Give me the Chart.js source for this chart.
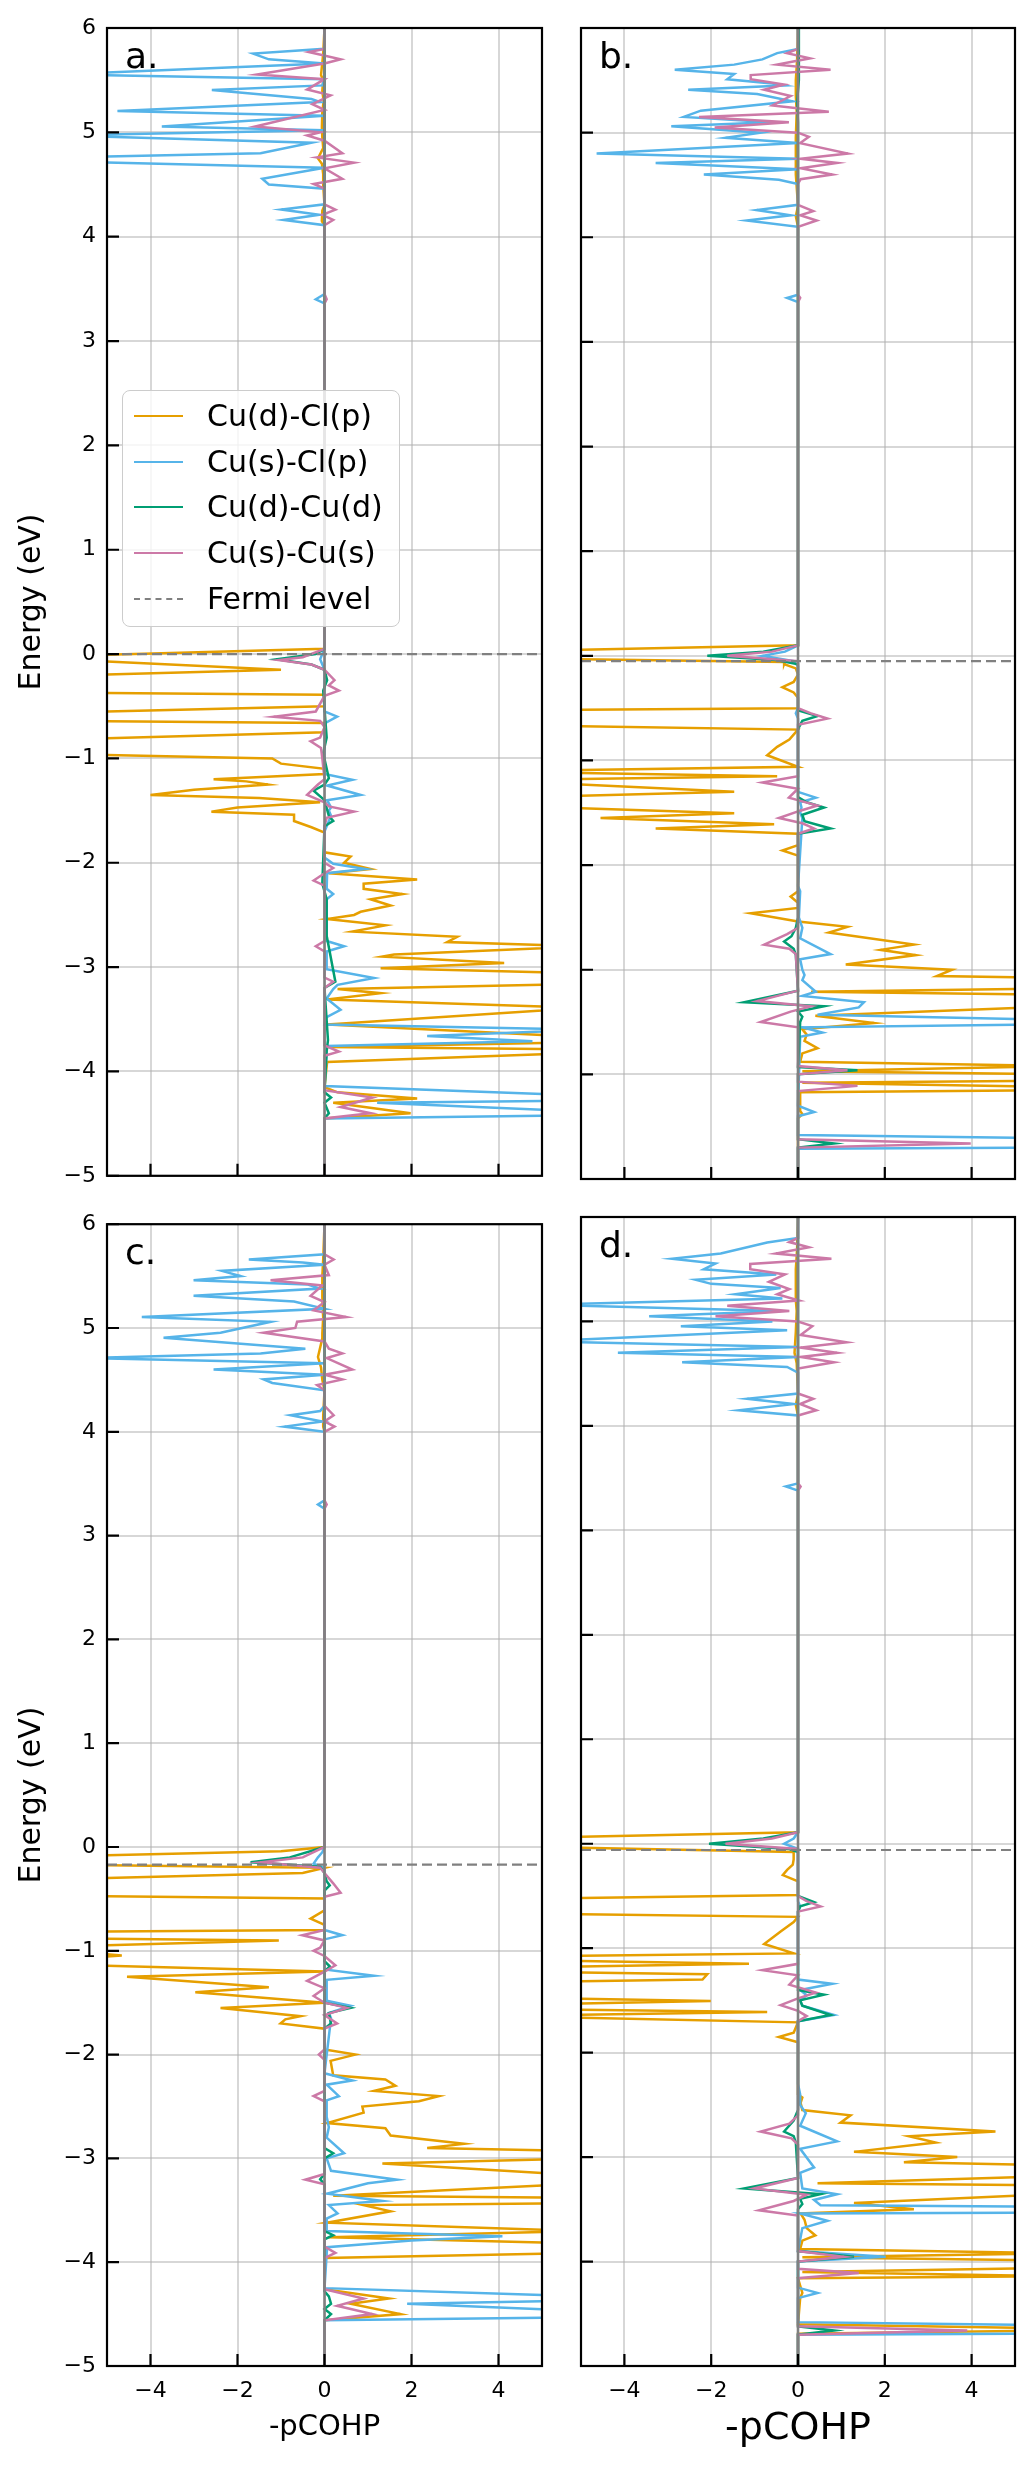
<!DOCTYPE html>
<html>
<head>
<meta charset="utf-8">
<script src="https://cdn.jsdelivr.net/npm/chart.js@4.4.1/dist/chart.umd.min.js"></script>
<style>
  body { margin: 0; background: #fff; width: 1036px; height: 2466px; position: relative; overflow: hidden; font-family: "DejaVu Sans"; }
  canvas { position: absolute; }
  #legend { position: absolute; left: 122px; top: 390px; width: 278px; height: 237px; box-sizing: border-box;
            border: 1.5px solid #cccccc; border-radius: 8px; background: rgba(255,255,255,0.8); z-index: 2; }
  .row { position: absolute; left: 0; height: 40px; width: 100%; }
  .swatch { position: absolute; left: 11px; width: 49px; top: 19px; border-top: 2.5px solid; }
  .lbl { position: absolute; left: 84px; top: 0; font-size: 30px; line-height: 40px; color: #000; white-space: nowrap; }
</style>
</head>
<body>
<canvas id="pa" width="560" height="1200" style="left:0;top:0"></canvas>
<canvas id="pb" width="476" height="1200" style="left:560px;top:0"></canvas>
<canvas id="pc" width="560" height="1266" style="left:0;top:1200px"></canvas>
<canvas id="pd" width="476" height="1266" style="left:560px;top:1200px"></canvas>
<div id="legend"></div>
<script>
// series order: Cu(d)-Cl(p), Cu(s)-Cl(p), Cu(d)-Cu(d), Cu(s)-Cu(s)
const seriesNames = ["Cu(d)-Cl(p)", "Cu(s)-Cl(p)", "Cu(d)-Cu(d)", "Cu(s)-Cu(s)"];
const panelLabels = ["a.", "b.", "c.", "d."];
const fermiLevels = [0.0, -0.05, -0.17, -0.06];
const xTickVals = [-4, -2, 0, 2, 4];
const yTickVals = [-5, -4, -3, -2, -1, 0, 1, 2, 3, 4, 5, 6];

// each point: [energy, -pCOHP]
const a_CuDClP = [[6,0],[5.75,-0.03],[5.55,-0.08],[5.5,-0.03],[5.4,-0.05],[5.3,-0.02],[5.2,-0.05],[5.05,-0.06],[4.95,-0.05],[4.85,-0.03],[4.75,-0.15],[4.7,-0.06],[4.6,-0.03],[4.5,-0.03],[4.3,0],[4.25,-0.05],[4.15,-0.06],[4.1,0],
  [0.05,0],[-0.03,-7],[-0.15,-1.0],[-0.22,-7],[-0.30,-8],[-0.37,-6],[-0.39,0],[-0.50,0],[-0.57,-7],[-0.64,-6],[-0.66,0],[-0.75,0],[-0.83,-7],[-0.90,-8],[-0.96,-6],[-1.0,-1.2],[-1.05,-1.0],[-1.10,0],
  [-1.15,0],[-1.20,-2.55],[-1.22,-1.8],[-1.25,-1.3],[-1.30,-3.0],[-1.35,-4.0],[-1.38,-1.5],[-1.42,-0.1],[-1.47,-2.0],[-1.51,-2.6],[-1.54,-0.7],[-1.60,-0.7],[-1.66,-0.3],[-1.71,0],
  [-1.90,0],[-1.94,0.6],[-2.0,0.45],[-2.06,1.06],[-2.10,0.1],[-2.16,2.13],[-2.20,0.9],[-2.25,0.9],[-2.30,1.79],[-2.35,1.06],[-2.41,1.52],[-2.47,0.83],[-2.50,0.68],[-2.54,0.06],[-2.60,1.4],[-2.66,0.64],[-2.71,3.05],[-2.76,2.82],[-2.80,6],[-2.88,1.6],[-2.90,1.33],[-2.96,4.13],[-3.01,1.29],[-3.06,6],[-3.16,6],[-3.21,0.3],[-3.25,1.29],[-3.31,0.06],[-3.39,6],[-3.55,0.06],[-3.67,6],[-3.72,6],[-3.765,0.06],[-3.79,6],[-3.82,6],[-3.91,0.06],
  [-4.15,0],[-4.20,0.3],[-4.26,2.13],[-4.30,0.2],[-4.40,1.98],[-4.45,0],[-5,0]];
const a_CuSClP = [[6,0],[5.80,0],[5.755,-1.64],[5.70,-1.28],[5.66,0],[5.555,-6],[5.51,0],[5.45,-0.05],[5.405,-2.59],[5.32,-0.3],[5.29,-0.1],[5.205,-4.76],[5.16,0],[5.056,-3.74],[5.02,0],[4.97,-6],[4.90,-0.3],[4.80,-1.47],[4.76,-6],[4.72,-6],[4.66,0],[4.555,-1.43],[4.50,-1.28],[4.46,0],[4.31,0],[4.26,-0.99],[4.21,-0.12],[4.16,-0.94],[4.11,0],[3.45,0],[3.40,-0.2],[3.36,0],
  [0.05,0],[0.0,-0.05],[-0.05,-0.1],[-0.15,0],[-0.55,0],[-0.60,0.29],[-0.665,0],[-1.15,0],[-1.205,0.64],[-1.26,0.06],[-1.35,0.83],[-1.40,0.06],[-1.47,0.15],[-1.50,0.1],[-1.55,0.15],[-1.70,0],[-1.95,0],[-2.01,0.2],[-2.06,0.94],[-2.10,0.06],[-2.25,0.05],[-2.30,0.2],[-2.35,0.05],[-2.75,0.05],[-2.80,0.45],[-2.85,0.05],[-3.02,0.05],[-3.105,1.14],[-3.17,0.3],[-3.21,0.2],[-3.30,0.05],[-3.41,0.37],[-3.48,0.05],[-3.55,0],[-3.60,6],[-3.66,2.36],[-3.71,4.78],[-3.755,0.06],[-4.14,0],[-4.23,6],[-4.28,6],[-4.30,1.21],[-4.385,6],[-4.42,6],[-4.45,0],[-5,0]];
const a_CuDCuD = [[6,0],[0.05,0],[0.0,-0.2],[-0.05,-1.1],[-0.1,-0.3],[-0.15,0],[-0.25,0.06],[-0.35,-0.03],[-0.8,0.05],[-0.95,-0.03],[-1.19,0.1],[-1.25,0],[-1.31,-0.25],[-1.40,0],[-1.55,0.1],[-1.60,0.2],[-1.65,0],[-2.2,-0.05],[-2.35,0.05],[-2.5,0.05],[-2.7,0.05],[-3.14,0.25],[-3.2,0],[-3.7,0.08],[-3.8,0.05],[-4.2,0],[-4.25,0.15],[-4.30,0],[-4.40,0.1],[-4.45,0],[-5,0]];
const a_CuSCuS = [[6,0],[5.80,0],[5.77,-0.36],[5.70,0.37],[5.66,0],[5.555,-1.55],[5.51,0],[5.41,-0.4],[5.355,0.14],[5.27,-0.28],[5.215,0],[5.056,-1.59],[5.0,-0.1],[4.97,-0.4],[4.92,0],[4.80,0.41],[4.76,-0.17],[4.71,0.68],[4.655,0],[4.555,0.41],[4.505,-0.25],[4.46,0],[4.31,0],[4.26,0.25],[4.21,-0.05],[4.16,0.2],[4.11,0],[3.45,0],[3.40,0.05],[3.36,0],
  [0.05,0],[-0.03,-0.5],[-0.058,-1.05],[-0.10,-0.3],[-0.15,0],[-0.25,0.23],[-0.30,0.1],[-0.35,0.33],[-0.40,0],[-0.55,-0.2],[-0.60,-1.17],[-0.64,-0.1],[-0.70,0],[-0.80,-0.1],[-0.836,-0.32],[-0.90,-0.08],[-1.0,-0.05],[-1.2,0],[-1.25,-0.15],[-1.35,-0.4],[-1.42,0],[-1.46,0.1],[-1.51,0.68],[-1.57,0.05],[-1.65,0],[-2.0,0],[-2.05,0.2],[-2.10,0],[-2.17,-0.25],[-2.22,0],[-2.75,0],[-2.80,-0.2],[-2.85,0],[-3.10,0],[-3.14,0.2],[-3.2,0],[-3.75,0],[-3.81,0.33],[-3.85,0],[-4.18,0],[-4.25,1.1],[-4.34,0.37],[-4.40,1.06],[-4.45,0],[-5,0]];

const b_CuDClP = [[6,0],[5.7,-0.02],[5.5,-0.05],[5.35,-0.05],[5.2,-0.03],[4.95,-0.05],[4.75,-0.05],[4.6,-0.05],[4.3,0],[4.2,-0.05],[4.1,0],
  [0.10,0],[0.04,-7],[-0.02,-7],[-0.06,-0.3],[-0.08,-0.32],[-0.12,-0.05],[-0.18,0],[-0.25,-0.1],[-0.30,-0.36],[-0.35,-0.1],[-0.40,0],[-0.50,0],[-0.52,-7],[-0.66,-7],[-0.705,0],[-0.80,-0.2],[-0.87,-0.48],[-0.95,-0.71],[-1.06,0],[-1.105,-7],[-1.15,-0.48],[-1.19,-7],[-1.30,-1.47],[-1.36,-7],[-1.43,-7],[-1.505,-1.47],[-1.55,-4.55],[-1.61,-0.55],[-1.65,-3.28],[-1.70,0],
  [-1.81,0],[-1.86,-0.36],[-1.91,0],[-2.25,0],[-2.30,-0.17],[-2.36,0],[-2.41,0],[-2.46,-1.09],[-2.54,0],[-2.59,1.14],[-2.645,0.71],[-2.76,2.67],[-2.81,1.9],[-2.86,2.71],[-2.95,1.1],[-3.0,3.55],[-3.06,3.2],[-3.08,6],[-3.18,6],[-3.21,0.3],[-3.24,6],[-3.29,6],[-3.35,6],[-3.44,0.4],[-3.51,1.75],[-3.57,0.1],[-3.62,0.2],[-3.68,0.15],[-3.75,0.45],[-3.80,0.1],[-3.88,0.05],[-3.92,6],[-3.97,0.1],[-4.00,6],[-4.06,6],[-4.08,0.1],[-4.12,6],[-4.15,6],[-4.17,0.05],[-4.35,0.05],[-4.38,0.1],[-4.42,0],[-5,0]];
const b_CuSClP = [[6,0],[5.80,0],[5.76,-0.48],[5.70,-0.82],[5.65,-1.47],[5.60,-2.84],[5.56,-1.47],[5.51,-1.63],[5.47,-0.6],[5.45,-0.32],[5.41,-2.53],[5.37,-0.94],[5.30,-0.13],[5.21,-2.24],[5.15,-2.63],[5.10,-0.6],[5.06,-2.92],[5.0,-0.86],[4.95,-1.67],[4.90,0],[4.80,-4.64],[4.75,0],[4.71,-3.28],[4.65,0],[4.60,-2.17],[4.55,-0.44],[4.51,0],[4.31,0],[4.26,-0.95],[4.21,-0.17],[4.16,-1.18],[4.10,0],[3.45,0],[3.42,-0.25],[3.38,0],
  [0.10,0],[0.04,-0.3],[0.0,-0.82],[-0.05,-0.1],[-0.1,0],[-0.5,0],[-0.55,-0.05],[-0.6,0],[-1.3,0],[-1.355,0.41],[-1.40,0.05],[-1.45,0.08],[-1.5,0.05],[-1.55,0.1],[-2.2,0],[-2.25,0.05],[-2.5,0.02],[-2.6,0.1],[-2.7,0.05],[-2.85,0.75],[-2.9,0.05],[-3.0,0.1],[-3.05,0.15],[-3.1,0.1],[-3.21,0.41],[-3.25,0.1],[-3.31,1.52],[-3.36,1.4],[-3.43,0.45],[-3.48,6],[-3.52,6],[-3.55,0.1],[-3.60,0.56],[-3.64,0.05],[-4.3,0],[-4.36,0.37],[-4.40,0],[-4.58,0],[-4.61,6],[-4.70,6],[-4.71,0],[-5,0]];
const b_CuDCuD = [[6,0],[5.5,0.02],[5.3,-0.02],[5.1,0],
  [0.10,0],[0.04,-0.8],[0.0,-2.09],[-0.04,-0.5],[-0.08,0],[-0.52,0],[-0.575,0.45],[-0.62,0.1],[-0.70,0],[-1.35,0],[-1.40,0.2],[-1.45,0.6],[-1.52,0.1],[-1.58,0.15],[-1.65,0.75],[-1.70,0],[-2.5,0],[-2.6,-0.05],[-2.68,-0.15],[-2.73,-0.32],[-2.80,-0.1],[-2.86,-0.05],[-3.2,0],[-3.31,-1.24],[-3.35,0.6],[-3.40,0],[-3.45,0.1],[-3.50,0.05],[-3.93,0],[-3.96,1.37],[-4.0,0],[-4.62,0],[-4.66,0.83],[-4.70,0],[-5,0]];
const b_CuSCuS = [[6,0],[5.80,0],[5.76,-0.25],[5.71,0.28],[5.65,-0.48],[5.60,0.75],[5.55,-1.09],[5.51,-1.09],[5.46,-0.32],[5.41,-0.78],[5.35,-0.17],[5.26,-0.59],[5.20,0.71],[5.15,-2.28],[5.10,-0.21],[5.05,-1.92],[5.0,0],[4.96,0.25],[4.90,0.05],[4.80,1.15],[4.75,0.06],[4.71,0.9],[4.66,0.06],[4.60,0.79],[4.555,0.06],[4.51,0],[4.31,0],[4.25,0.35],[4.21,0.05],[4.16,0.43],[4.10,0],[3.45,0],[3.42,0.05],[3.38,0],
  [0.10,0],[0.04,-0.6],[0.0,-1.63],[-0.05,0],[-0.5,0],[-0.55,0.3],[-0.60,0.68],[-0.66,0],[-1.15,0],[-1.21,-0.82],[-1.27,0],[-1.355,-0.21],[-1.43,0.45],[-1.48,0.05],[-1.55,-0.44],[-1.60,0.1],[-1.65,0.37],[-1.70,0],[-2.60,0],[-2.66,-0.25],[-2.76,-0.78],[-2.80,-0.2],[-2.85,-0.05],[-3.20,0],[-3.30,-0.94],[-3.35,0.3],[-3.40,-0.17],[-3.50,-0.86],[-3.55,0],[-3.92,0],[-3.96,1.14],[-4.0,0],[-4.07,0],[-4.11,1.37],[-4.16,0],[-4.62,0],[-4.66,3.98],[-4.70,0],[-5,0]];

const c_CuDClP = [[6,0],[5.66,-0.03],[5.5,-0.05],[5.3,-0.05],[5.1,-0.03],[4.95,-0.05],[4.9,-0.05],[4.72,-0.15],[4.62,-0.08],[4.5,-0.05],[4.4,0],[4.15,-0.03],[4.05,-0.03],[4.0,0],
  [0.0,0],[-0.04,-1.0],[-0.10,-7],[-0.17,-6],[-0.20,0],[-0.25,-0.5],[-0.32,-7],[-0.40,-8],[-0.47,-6],[-0.495,0],[-0.61,0],[-0.69,-0.32],[-0.75,0],[-0.80,0],[-0.82,-7],[-0.88,-6],[-0.90,-1.05],[-0.97,-7],[-1.045,-4.66],[-1.12,-7],[-1.20,0],[-1.25,-4.54],[-1.35,-1.28],[-1.40,-2.97],[-1.50,0],[-1.55,-2.39],[-1.63,-0.55],[-1.66,-0.9],[-1.70,-1.01],[-1.75,0],
  [-1.95,0],[-2.0,0.71],[-2.06,0.14],[-2.20,0.2],[-2.24,1.4],[-2.30,1.63],[-2.35,1.14],[-2.40,2.63],[-2.45,2.17],[-2.50,0.87],[-2.56,0.9],[-2.66,0.06],[-2.71,1.4],[-2.78,1.52],[-2.86,3.21],[-2.90,2.36],[-2.93,6],[-3.0,6],[-3.05,1.33],[-3.165,6],[-3.24,6],[-3.36,0.2],[-3.38,6],[-3.43,6],[-3.45,0.9],[-3.51,1.52],[-3.62,0.06],[-3.70,6],[-3.76,0.1],[-3.82,6],[-3.91,6],[-3.96,0],
  [-4.26,0],[-4.35,1.48],[-4.40,0.6],[-4.50,1.75],[-4.56,0],[-5,0]];
const c_CuSClP = [[6,0],[5.71,0],[5.66,-1.74],[5.63,-0.5],[5.61,0],[5.55,-2.36],[5.50,-1.93],[5.46,-3.01],[5.42,-0.4],[5.38,-0.1],[5.31,-3.01],[5.255,-0.7],[5.185,0],[5.105,-4.2],[5.06,-1.24],[4.955,-2.39],[4.905,-3.7],[4.80,-0.44],[4.755,-1.47],[4.71,-5.5],[4.66,0],[4.60,-2.55],[4.55,0],[4.505,-1.4],[4.47,-1.2],[4.40,0],[4.25,0],[4.20,-0.1],[4.16,-0.78],[4.10,-0.05],[4.05,-0.92],[4.0,0],[3.34,0],[3.30,-0.15],[3.26,0],
  [0.0,0],[-0.05,-0.05],[-0.10,-0.15],[-0.16,-0.25],[-0.20,0],[-0.80,0],[-0.85,0.41],[-0.89,0],[-1.18,0],[-1.24,1.14],[-1.28,0.05],[-1.48,0.05],[-1.53,0.6],[-1.60,0.1],[-1.65,0.15],[-2.18,0],[-2.25,0.64],[-2.29,0.05],[-2.40,0.33],[-2.44,0.05],[-2.6,0.05],[-2.7,0.1],[-2.80,0.05],[-2.95,0.45],[-3.0,0.05],[-3.12,0.15],[-3.205,1.67],[-3.24,1.0],[-3.34,0.06],[-3.41,1.33],[-3.45,0.1],[-3.53,0.3],[-3.58,0.05],[-3.70,0.05],[-3.75,4.09],[-3.79,2.0],[-3.855,0.06],[-4.25,0],[-4.33,6],[-4.37,6],[-4.40,1.9],[-4.47,6],[-4.53,6],[-4.56,0],[-5,0]];
const c_CuDCuD = [[6,0],[0.0,0],[-0.10,-0.8],[-0.147,-1.7],[-0.19,-0.1],[-0.25,0],[-0.33,0.05],[-0.37,0.12],[-0.42,0],[-1.10,0],[-1.15,0.12],[-1.2,0],[-1.50,0],[-1.55,0.6],[-1.60,0.1],[-1.70,0.15],[-1.75,0],[-2.9,0],[-2.95,0.2],[-3.0,0],[-3.15,0],[-3.2,-0.1],[-3.25,0],[-3.70,0],[-3.74,0.2],[-3.78,0],[-4.28,0],[-4.33,0.1],[-4.40,0.15],[-4.45,0],[-4.50,0.15],[-4.56,0],[-5,0]];
const c_CuSCuS = [[6,0],[5.71,0],[5.66,0.21],[5.61,0],[5.51,0.1],[5.46,-1.24],[5.41,-0.05],[5.31,-0.32],[5.25,0],[5.17,-0.25],[5.105,0.5],[5.06,-0.63],[5.0,-0.67],[4.955,-1.4],[4.87,0],[4.80,0.1],[4.755,0.41],[4.71,0.05],[4.60,0.64],[4.55,0],[4.505,0.41],[4.45,-0.17],[4.40,0],[4.25,0],[4.16,0.21],[4.10,0],[4.05,0.23],[4.0,0],[3.34,0],[3.30,0.05],[3.26,0],
  [0.0,0],[-0.10,-0.5],[-0.147,-1.47],[-0.20,-0.1],[-0.25,0],[-0.35,0.2],[-0.44,0.37],[-0.48,0],[-0.80,0],[-0.85,-0.51],[-0.90,0],[-0.97,-0.1],[-1.0,-0.25],[-1.05,0],[-1.14,0.25],[-1.20,0],[-1.29,-0.4],[-1.36,0],[-1.435,-0.25],[-1.50,0],[-1.55,0.52],[-1.62,0],[-1.70,0.29],[-1.75,0],[-1.95,0],[-2.0,-0.13],[-2.05,0],[-2.35,0],[-2.40,-0.25],[-2.45,0],[-3.15,0],[-3.205,-0.44],[-3.25,0],[-3.85,0],[-3.91,0.25],[-3.96,0],[-4.26,0],[-4.35,0.9],[-4.42,0.29],[-4.50,1.1],[-4.56,0],[-5,0]];

const d_CuDClP = [[6,0],[5.7,-0.02],[5.5,-0.05],[5.35,-0.05],[5.2,-0.05],[5.1,-0.03],[4.9,-0.05],[4.7,-0.08],[4.6,-0.03],[4.3,0],[4.2,-0.05],[4.1,0],
  [0.11,0],[0.05,-7],[-0.02,-7],[-0.08,-0.1],[-0.15,-0.1],[-0.20,-0.12],[-0.25,-0.25],[-0.30,-0.35],[-0.36,0],[-0.49,0],[-0.53,-7],[-0.665,-7],[-0.70,0],[-0.75,-0.1],[-0.84,-0.4],[-0.96,-0.78],[-1.05,-0.1],[-1.08,-7],[-1.11,-7],[-1.15,-1.13],[-1.19,-7],[-1.22,-7],[-1.25,-2.09],[-1.30,-2.2],[-1.33,-7],[-1.47,-7],[-1.505,-2.01],[-1.545,-7],[-1.58,-7],[-1.61,-0.71],[-1.65,-7],[-1.71,0],
  [-1.81,-0.1],[-1.85,-0.44],[-1.90,0],[-2.17,0],[-2.40,0],[-2.43,0.1],[-2.48,0.06],[-2.55,0.1],[-2.60,1.21],[-2.67,0.98],[-2.755,4.55],[-2.80,2.56],[-2.86,3.17],[-2.95,1.29],[-3.0,3.67],[-3.05,2.44],[-3.08,6],[-3.18,6],[-3.25,0.45],[-3.27,6],[-3.35,6],[-3.44,1.29],[-3.50,2.67],[-3.54,0.06],[-3.60,0.15],[-3.68,0.2],[-3.75,0.4],[-3.80,0.1],[-3.88,0.05],[-3.92,6],[-3.96,0.1],[-3.99,6],[-4.06,6],[-4.10,0.1],[-4.14,6],[-4.16,0],[-4.30,0.1],[-4.35,0.05],[-4.60,0],[-4.64,6],[-4.66,6],[-4.69,0],[-5,0]];
const d_CuSClP = [[6,0],[5.80,0],[5.755,-0.71],[5.65,-1.78],[5.60,-2.9],[5.555,-1.9],[5.50,-2.17],[5.45,-0.5],[5.40,-2.36],[5.36,-2.0],[5.32,-0.4],[5.26,-1.44],[5.22,-0.36],[5.16,-6],[5.10,-0.4],[5.05,-3.43],[5.0,-0.59],[4.955,-2.7],[4.915,-0.25],[4.81,-6],[4.755,0],[4.70,-4.15],[4.66,0],[4.61,-2.67],[4.565,-0.25],[4.51,0],[4.31,0],[4.26,-1.17],[4.21,-0.1],[4.15,-1.36],[4.10,0],[3.45,0],[3.42,-0.28],[3.38,0],
  [0.11,0],[0.05,-0.1],[0.0,-0.32],[-0.05,0],[-0.55,0],[-0.60,0.05],[-0.65,0],[-1.30,0],[-1.34,0.79],[-1.40,0.05],[-1.45,0.2],[-1.5,0.05],[-1.55,0.1],[-1.64,0.83],[-1.70,0],[-2.3,0],[-2.4,0.05],[-2.50,0.05],[-2.58,0.18],[-2.70,0.05],[-2.85,0.9],[-2.92,0.05],[-3.10,0.37],[-3.15,0.05],[-3.30,0.1],[-3.355,0.9],[-3.41,0.37],[-3.46,0.52],[-3.475,6],[-3.53,6],[-3.54,0.05],[-3.61,0.68],[-3.68,0.1],[-3.90,0],[-3.955,2.02],[-4.0,0],[-4.25,0],[-4.30,0.45],[-4.35,0],[-4.58,0],[-4.61,6],[-4.69,6],[-4.70,0],[-5,0]];
const d_CuDCuD = [[6,0],[0.11,0],[0.05,-0.8],[0.0,-2.05],[-0.05,-0.2],[-0.08,0],[-0.50,0],[-0.56,0.37],[-0.60,0.05],[-0.65,0],[-1.40,0],[-1.445,0.6],[-1.50,0.05],[-1.55,0.1],[-1.64,0.75],[-1.70,0],[-2.55,0],[-2.65,-0.1],[-2.755,-0.32],[-2.80,-0.1],[-2.86,-0.05],[-3.20,0],[-3.30,-1.24],[-3.355,0.52],[-3.40,0.05],[-3.45,0.1],[-3.50,0],[-3.90,0],[-3.955,1.29],[-4.0,0],[-4.62,0],[-4.66,0.83],[-4.70,0],[-5,0]];
const d_CuSCuS = [[6,0],[5.80,0],[5.76,-0.2],[5.71,0.25],[5.65,-0.51],[5.60,0.77],[5.55,-1.1],[5.50,-1.1],[5.45,-0.3],[5.38,-0.67],[5.31,-0.2],[5.26,-0.48],[5.20,0.02],[5.15,-1.63],[5.10,-0.2],[5.05,-1.9],[5.0,0],[4.955,0.33],[4.87,0.06],[4.80,1.12],[4.75,0.06],[4.70,0.9],[4.66,0.06],[4.61,0.83],[4.55,0],[4.31,0],[4.26,0.35],[4.21,0.05],[4.15,0.42],[4.10,0],[3.45,0],[3.42,0.06],[3.38,0],
  [0.11,0],[0.05,-0.6],[0.0,-1.67],[-0.05,0],[-0.50,0],[-0.55,0.2],[-0.60,0.52],[-0.65,0],[-1.15,0],[-1.21,-0.82],[-1.26,0],[-1.35,-0.2],[-1.425,0.41],[-1.48,0],[-1.545,-0.4],[-1.60,0],[-1.65,0.2],[-1.70,0],[-2.60,0],[-2.68,-0.2],[-2.755,-0.86],[-2.82,-0.15],[-2.88,0],[-3.20,0],[-3.30,-1.01],[-3.36,0.2],[-3.42,-0.1],[-3.51,-0.9],[-3.56,0],[-3.90,0],[-3.955,1.06],[-4.0,0],[-4.07,0],[-4.11,1.4],[-4.16,0],[-4.62,0],[-4.66,3.9],[-4.70,0],[-5,0]];

const colors = ["#E69F00", "#56B4E9", "#009E73", "#CC79A7"];
const FONT = "DejaVu Sans";
Chart.defaults.font.family = FONT;
Chart.defaults.color = "#000";

const fmt = v => (v < 0 ? "\u2212" + Math.abs(v) : String(v));

// frame, inward ticks and the panel letter
const framePlugin = {
  id: "frame",
  afterDraw(chart, args, opts) {
    const { ctx, chartArea: a, scales: { x, y } } = chart;
    ctx.save();
    ctx.strokeStyle = "#000";
    ctx.lineWidth = 2.2;
    ctx.beginPath();
    xTickVals.forEach(v => { const p = x.getPixelForValue(v); ctx.moveTo(p, a.bottom); ctx.lineTo(p, a.bottom - 12); });
    yTickVals.forEach(v => { const p = y.getPixelForValue(v); ctx.moveTo(a.left, p); ctx.lineTo(a.left + 12, p); });
    ctx.stroke();
    ctx.strokeRect(a.left, a.top, a.right - a.left, a.bottom - a.top);
    ctx.fillStyle = "#000";
    ctx.font = "36px '" + FONT + "'";
    ctx.textBaseline = "alphabetic";
    ctx.fillText(opts.label, a.left + 18, a.top + 40);
    ctx.restore();
  }
};

function toPts(arr) {
  return arr.slice().sort((p, q) => q[0] - p[0]).map(p => ({ x: p[1], y: p[0] }));
}

function makePanel(id, idx, series, box) {
  const datasets = [
    { data: [{ x: 0, y: -5 }, { x: 0, y: 6 }], borderColor: "#808080", borderWidth: 2.6, order: 0 },
    { data: [{ x: -5, y: fermiLevels[idx] }, { x: 5, y: fermiLevels[idx] }], borderColor: "#808080", borderWidth: 2.2, borderDash: [10, 5], order: 1 }
  ];
  series.forEach((s, i) => {
    datasets.push({ label: seriesNames[i], data: toPts(s), borderColor: colors[i], borderWidth: 2.5, order: 5 - i });
  });
  datasets.forEach(d => { d.showLine = true; d.pointRadius = 0; d.tension = 0; d.fill = false; });

  return new Chart(document.getElementById(id), {
    type: "scatter",
    data: { datasets },
    options: {
      responsive: false,
      animation: false,
      events: [],
      devicePixelRatio: 1,
      layout: { padding: { top: box.top, right: box.right, left: 0, bottom: 0 } },
      plugins: { legend: { display: false }, tooltip: { enabled: false }, frame: { label: panelLabels[idx] } },
      scales: {
        x: {
          type: "linear", min: -5, max: 5,
          afterBuildTicks: s => { s.ticks = xTickVals.map(v => ({ value: v })); },
          afterFit: s => { s.height = box.xh; },
          grid: { color: "rgba(176,176,176,0.5)", lineWidth: 2, drawTicks: false },
          border: { display: false },
          ticks: { display: box.xLabels, padding: 12, autoSkip: false, maxRotation: 0, font: { size: 22 }, callback: fmt },
          title: { display: box.xLabels, text: "-pCOHP", font: { size: box.xTitleSize }, padding: { top: 0, bottom: box.xTitlePad } }
        },
        y: {
          type: "linear", min: -5, max: 6,
          afterBuildTicks: s => { s.ticks = yTickVals.map(v => ({ value: v })); },
          afterFit: s => { s.width = box.yw; },
          grid: { color: "rgba(176,176,176,0.5)", lineWidth: 2, drawTicks: false },
          border: { display: false },
          ticks: { display: box.yLabels, padding: 11, autoSkip: false, font: { size: 22 }, callback: fmt },
          title: { display: box.yLabels, text: "Energy (eV)", font: { size: 30 }, padding: { top: 14, bottom: 0 } }
        }
      }
    },
    plugins: [framePlugin]
  });
}

makePanel("pa", 0, [a_CuDClP, a_CuSClP, a_CuDCuD, a_CuSCuS], { top: 28, right: 18, yw: 107, xh: 21, xLabels: false, yLabels: true });
makePanel("pb", 1, [b_CuDClP, b_CuSClP, b_CuDCuD, b_CuSCuS], { top: 28, right: 21, yw: 21, xh: 21, xLabels: false, yLabels: false });
makePanel("pc", 2, [c_CuDClP, c_CuSClP, c_CuDCuD, c_CuSCuS], { top: 17, right: 18, yw: 107, xh: 100, xLabels: true, yLabels: true, xTitleSize: 29, xTitlePad: 21 });
makePanel("pd", 3, [d_CuDClP, d_CuSClP, d_CuDCuD, d_CuSCuS], { top: 17, right: 21, yw: 21, xh: 100, xLabels: true, yLabels: false, xTitleSize: 38, xTitlePad: 14 });

// legend in panel a
const legend = document.getElementById("legend");
const legendItems = seriesNames.map((n, i) => ({ text: n, color: colors[i], dash: false }))
  .concat([{ text: "Fermi level", color: "#808080", dash: true }]);
legendItems.forEach((it, i) => {
  const row = document.createElement("div");
  row.className = "row";
  row.style.top = (5 + i * 45.7) + "px";
  const sw = document.createElement("div");
  sw.className = "swatch";
  sw.style.borderTopColor = it.color;
  if (it.dash) sw.style.borderTopStyle = "dashed";
  const t = document.createElement("div");
  t.className = "lbl";
  t.textContent = it.text;
  row.appendChild(sw);
  row.appendChild(t);
  legend.appendChild(row);
});
</script>
